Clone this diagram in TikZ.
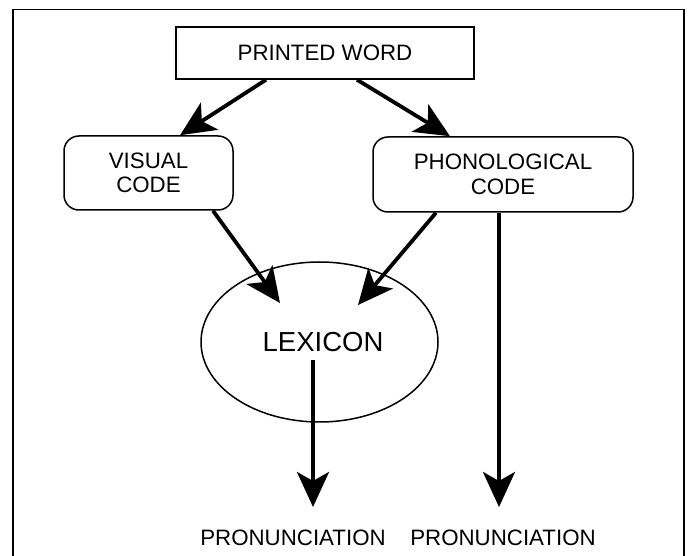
\documentclass[tikz,border=0pt]{standalone}
\usepackage{fontspec}
\setmainfont{Liberation Sans}
\usetikzlibrary{arrows.meta,shapes.geometric}
\begin{document}
\begin{tikzpicture}[x=1pt,y=-1pt,
  txt/.style={font=\fontsize{22.3}{24.5}\selectfont, inner sep=0pt, align=center},
  boxnode/.style={draw, line width=1.5pt, txt},
  roundbox/.style={boxnode, rounded corners=15pt},
  arr/.style={line width=3.8pt, -{Stealth[length=35pt,width=32pt,inset=9pt]}}
]
\useasboundingbox (0,0) rectangle (689,556);
\draw[line width=1.3pt] (13,556) -- (13,9.5) -- (684,9.5) -- (684,556);

\node[boxnode, minimum width=298pt, minimum height=52pt] (pw) at (325,53) {PRINTED WORD};
\node[roundbox, minimum width=169pt, minimum height=74pt] (vc) at (148.5,173) {VISUAL\\CODE};
\node[roundbox, minimum width=260pt, minimum height=75pt] (pc) at (503,174.5) {PHONOLOGICAL\\CODE};
\node[draw, ellipse, line width=1.5pt, minimum width=237pt, minimum height=160pt, inner sep=0pt] (lex) at (319.5,342) {};
\node[font=\fontsize{27.5}{30}\selectfont, inner sep=0pt] (lext) at (323,342.5) {LEXICON};
\node[txt] (pr1) at (293,537.5) {PRONUNCIATION};
\node[txt] (pr2) at (503,537.5) {PRONUNCIATION};

\draw[arr] ([xshift=-59pt]pw.south) -- ([xshift=31.5pt]vc.north);
\draw[arr] ([xshift=32pt]pw.south) -- ([xshift=-53pt]pc.north);
\draw[arr] ([xshift=64.5pt]vc.south) -- ([shift={(-39.5pt,39pt)}]lex.center);
\draw[arr] ([xshift=-67pt]pc.south) -- ([shift={(38.5pt,37pt)}]lex.center);
\draw[arr] ([shift={(-6.5pt,-18pt)}]lex.center) -- ([shift={(20pt,30.5pt)}]pr1.center);
\draw[arr] ([xshift=-4pt]pc.south) -- ([shift={(-4pt,30.5pt)}]pr2.center);
\end{tikzpicture}
\end{document}
